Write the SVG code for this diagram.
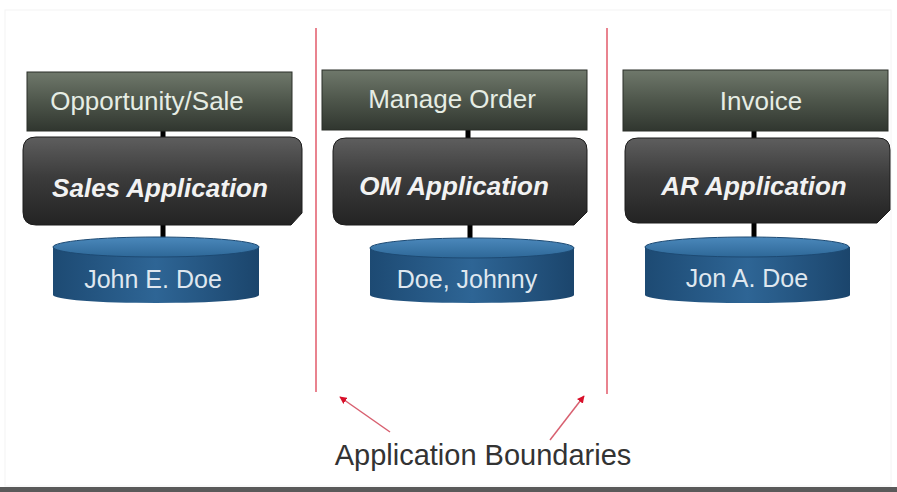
<svg xmlns="http://www.w3.org/2000/svg" width="897" height="492" viewBox="0 0 897 492">
  <defs>
    <linearGradient id="procFill" x1="0" y1="0" x2="0" y2="1">
      <stop offset="0" stop-color="#6f786b"/>
      <stop offset="0.5" stop-color="#4e564b"/>
      <stop offset="1" stop-color="#30362f"/>
    </linearGradient>
    <linearGradient id="appFill" x1="0" y1="0" x2="0" y2="1">
      <stop offset="0" stop-color="#5e5e5e"/>
      <stop offset="0.45" stop-color="#3c3c3c"/>
      <stop offset="1" stop-color="#232323"/>
    </linearGradient>
    <linearGradient id="dbBody" x1="0" y1="0" x2="1" y2="0">
      <stop offset="0" stop-color="#1d4a73"/>
      <stop offset="0.5" stop-color="#2e6595"/>
      <stop offset="1" stop-color="#1b456c"/>
    </linearGradient>
    <linearGradient id="dbTop" x1="0" y1="0" x2="0" y2="1">
      <stop offset="0" stop-color="#4b88bb"/>
      <stop offset="1" stop-color="#2e6898"/>
    </linearGradient>
    <marker id="redHead" viewBox="0 0 10 10" refX="9" refY="5" markerWidth="5" markerHeight="5" orient="auto">
      <path d="M0,0 L10,5 L0,10 z" fill="#d8102a"/>
    </marker>
  </defs>
  <style>
    .proc { fill: url(#procFill); stroke: #2a2f29; stroke-width: 1; }
    .app { fill: url(#appFill); stroke: #1c1c1c; stroke-width: 1; }
    .dbBody { fill: url(#dbBody); }
    .dbTop { fill: url(#dbTop); stroke: #1d4a73; stroke-width: 1; }
    .procText { font-family: "Liberation Sans", Arial, sans-serif; font-size: 26px; fill: #e6ede4; text-anchor: middle; }
    .appText { font-family: "Liberation Sans", Arial, sans-serif; font-size: 26px; font-weight: bold; font-style: italic; fill: #f2f2f2; text-anchor: middle; }
    .dbText { font-family: "Liberation Sans", Arial, sans-serif; font-size: 25px; fill: #dfe7ef; text-anchor: middle; }
    .link { stroke: #000; stroke-width: 5; stroke-linecap: round; }
    .boundary { stroke: #e25a6a; stroke-width: 1.5; fill: none; }
    .pointer { stroke: #d86070; stroke-width: 1.5; fill: none; }
    .caption { font-family: "Liberation Sans", Arial, sans-serif; font-size: 29px; fill: #333; text-anchor: middle; }
  </style>

  <rect x="0" y="0" width="897" height="492" fill="#ffffff"/>
  <rect x="5" y="10" width="886" height="476" fill="none" stroke="#f4f4f4" stroke-width="1"/>
  <rect x="0" y="487" width="897" height="5" fill="#5a5a5a"/>

  <!-- boundaries and pointers -->
  <g id="connectors">
    <line class="boundary" x1="316" y1="28" x2="316" y2="392"/>
    <line class="boundary" x1="607" y1="28" x2="607" y2="394"/>
    <line class="pointer" x1="390" y1="432" x2="340" y2="397" marker-end="url(#redHead)"/>
    <line class="pointer" x1="550" y1="440" x2="584" y2="396" marker-end="url(#redHead)"/>
    <line class="link" x1="163" y1="130" x2="163" y2="142"/>
    <line class="link" x1="163" y1="222" x2="163" y2="240"/>
    <line class="link" x1="468" y1="128" x2="468" y2="141"/>
    <line class="link" x1="470" y1="222" x2="470" y2="241"/>
    <line class="link" x1="754" y1="129" x2="754" y2="141"/>
    <line class="link" x1="754" y1="222" x2="754" y2="241"/>
  </g>

  <!-- sales column -->
  <g id="opportunity">
    <rect class="proc" x="27" y="72" width="265" height="59"/>
    <text class="procText" x="147" y="110">Opportunity/Sale</text>
  </g>
  <g id="sales-app">
    <path class="app" d="M36,137 H290 Q302,137 302,149 V213 L291,225 H36 Q23,225 23,212 V150 Q23,137 36,137 Z"/>
    <text class="appText" x="160" y="197">Sales Application</text>
  </g>
  <g id="sales-db">
    <path class="dbBody" d="M53,247 V295 A103,8 0 0 0 259,295 V247 Z"/>
    <ellipse class="dbTop" cx="156" cy="247" rx="103" ry="10"/>
    <text class="dbText" x="153" y="288">John E. Doe</text>
  </g>

  <!-- order management column -->
  <g id="manage-order">
    <rect class="proc" x="322" y="70" width="265" height="60"/>
    <text class="procText" x="452" y="108">Manage Order</text>
  </g>
  <g id="om-app">
    <path class="app" d="M346,138 H575 Q587,138 587,150 V212 L574,225 H346 Q333,225 333,212 V151 Q333,138 346,138 Z"/>
    <text class="appText" x="454" y="195">OM Application</text>
  </g>
  <g id="om-db">
    <path class="dbBody" d="M370,248 V295 A102,8 0 0 0 574,295 V248 Z"/>
    <ellipse class="dbTop" cx="472" cy="248" rx="102" ry="10"/>
    <text class="dbText" x="467" y="288">Doe, Johnny</text>
  </g>

  <!-- invoicing column -->
  <g id="invoice">
    <rect class="proc" x="623" y="70" width="265" height="61"/>
    <text class="procText" x="761" y="110">Invoice</text>
  </g>
  <g id="ar-app">
    <path class="app" d="M638,138 H878 Q890,138 890,150 V210 L877,223 H638 Q625,223 625,210 V151 Q625,138 638,138 Z"/>
    <text class="appText" x="754" y="195">AR Application</text>
  </g>
  <g id="ar-db">
    <path class="dbBody" d="M645,247 V295 A102,8 0 0 0 850,295 V247 Z"/>
    <ellipse class="dbTop" cx="747" cy="247" rx="102" ry="10"/>
    <text class="dbText" x="747" y="287">Jon A. Doe</text>
  </g>

  <g id="caption">
    <text class="caption" x="483" y="465">Application Boundaries</text>
  </g>
</svg>
